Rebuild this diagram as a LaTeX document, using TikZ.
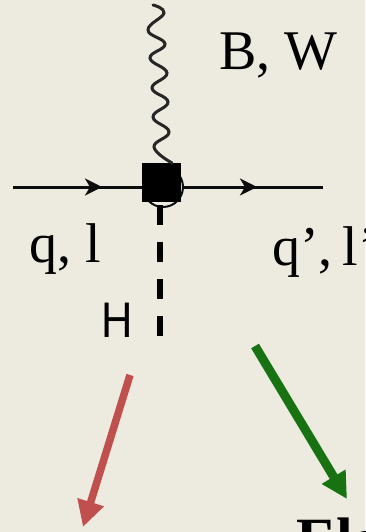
\documentclass[tikz,border=0pt]{standalone}
\usepackage{fontspec}
\setmainfont{Liberation Serif}
\newfontfamily\hfont{Liberation Sans}
\usetikzlibrary{arrows.meta}
\definecolor{paper}{HTML}{EDEBE0}
\definecolor{redarrow}{HTML}{C0504D}
\definecolor{greenarrow}{HTML}{177212}
\tikzset{
  x=1pt,y=-1pt,
  fermion/.style={line width=3pt,black!95},
  flowtip/.style={-{Stealth[length=17pt,width=17pt,inset=5pt]}},
  biglabel/.style={inner sep=0pt,anchor=base west,font=\fontsize{56}{56}\selectfont,text=black},
  bigarrow/.style={-{Triangle[length=26pt,width=26pt]}}
}
\begin{document}
\begin{tikzpicture}
\path[use as bounding box,fill=paper] (0,0) rectangle (365,532);
\clip (0,0) rectangle (365,532);
\coordinate (wtop) at (153,5);
\coordinate (wend) at (172,163);
\coordinate (inL) at (13,187);
\coordinate (outR) at (323,187);
\coordinate (hstart) at (160,205);
\coordinate (hend) at (160,338);
\coordinate (midL) at (102,187);
\coordinate (midR) at (257,187);
\coordinate (rs) at (130,375);
\coordinate (re) at (83,527);
\coordinate (gs) at (255,346);
\coordinate (ge) at (347,499);
\node[draw=black!95,line width=2pt,circle,minimum size=40pt,inner sep=0pt] (loop) at (163,187) {};
\draw[fermion] (inL) -- (loop);
\draw[fermion] (loop) -- (outR);
\draw[fermion,flowtip] (inL) -- (midL);
\draw[fermion,flowtip] (loop) -- (midR);
\node[fill=black,minimum size=39pt,inner sep=0pt,outer sep=0pt] (vertex) at (161.5,182) {};
\draw[line width=3pt,black!85,line cap=round] plot[smooth,tension=.75] coordinates {(wtop) (164,13) (148,30) (165,44) (150,58) (167,73) (152,88) (168,102) (153,117) (169,132) (154,147) (wend)};
\draw[line width=5.2pt,dash pattern=on 19.5pt off 17.5pt] (hstart) -- (hend);
\node[biglabel] (bw) at (219,70) {B, W};
\node[biglabel] (ql) at (29,262) {q, l};
\node[biglabel] (qpl) at (272,265) {q’,\hspace{-4pt} l’};
\node[inner sep=0pt,anchor=base west,font=\hfont\fontsize{50}{50}\selectfont] (hlabel) at (101,337) {\scalebox{.87}[1]{H}};
\draw[bigarrow,redarrow,line width=7.5pt] (rs) -- (re);
\draw[bigarrow,greenarrow,line width=9pt] (gs) -- (ge);
\node[inner sep=0pt,anchor=base west,font=\fontsize{60}{60}\selectfont\bfseries] (ele) at (296,559) {Ele};
\end{tikzpicture}
\end{document}
